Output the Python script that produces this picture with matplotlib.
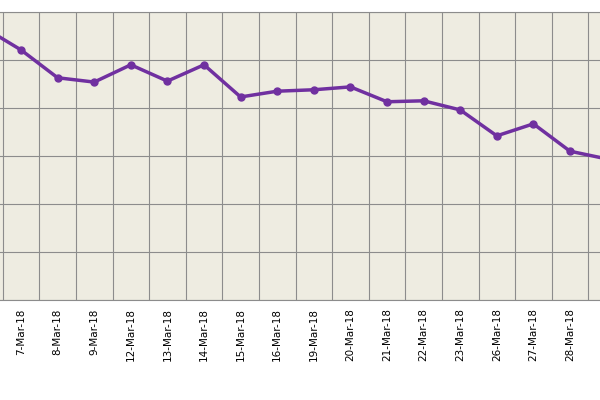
import matplotlib
matplotlib.use("Agg")
import matplotlib.pyplot as plt

dates = ["6-Mar-18","7-Mar-18","8-Mar-18","9-Mar-18","12-Mar-18","13-Mar-18","14-Mar-18",
         "15-Mar-18","16-Mar-18","19-Mar-18","20-Mar-18","21-Mar-18","22-Mar-18","23-Mar-18",
         "26-Mar-18","27-Mar-18","28-Mar-18","29-Mar-18"]
values = [5.67,5.21,4.63,4.54,4.90,4.56,4.90,4.23,4.35,4.38,4.44,4.13,4.15,3.96,3.42,3.67,3.10,2.94]

fig = plt.figure(figsize=(6,4), dpi=100)
ax = fig.add_axes([-0.0565, 0.25, 1.098, 0.72])
ax.set_facecolor("#EEECE1")
x = list(range(len(dates)))
ax.plot(x, values, color="#7030A0", lw=2.5, marker="o", ms=5)
ax.set_xlim(-0.5, len(dates)-0.5)
ax.set_ylim(0, 6)
ax.set_xticks(x)
ax.set_xticklabels(dates, rotation=90, fontsize=7.5)
ax.set_xticks([i+0.5 for i in x[:-1]], minor=True)
ax.tick_params(axis="x", which="major", length=0, pad=6)
ax.tick_params(axis="x", which="minor", length=0)
ax.set_yticks(range(0,7))
ax.set_yticklabels([])
ax.tick_params(axis="y", length=0)
ax.grid(True, which="minor", axis="x", color="#8C8C8C", lw=0.8)
ax.grid(True, which="major", axis="y", color="#8C8C8C", lw=0.8)
ax.set_axisbelow(True)
for s in ax.spines.values():
    s.set_color("#8C8C8C")
fig.savefig("out.png", dpi=100)
